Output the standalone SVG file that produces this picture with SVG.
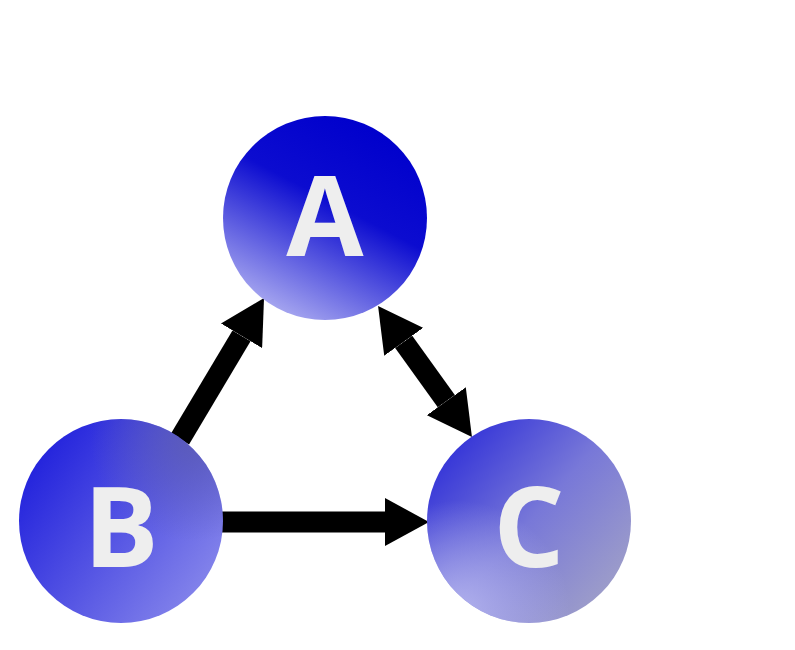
<svg xmlns="http://www.w3.org/2000/svg" width="795" height="650" viewBox="0 0 795 650">
<style>
.lbl{font-family:"Open Sans","Noto Sans","DejaVu Sans",sans-serif;font-weight:bold;font-size:112px;fill:#eeeeee;text-anchor:middle}
.edge{stroke:#000;stroke-width:21;fill:none}
</style>
<defs>
<marker id="ah" markerUnits="userSpaceOnUse" viewBox="0 0 44 48" refX="0" refY="24" markerWidth="44" markerHeight="48" orient="auto-start-reverse">
<path d="M0,0 L44,24 L0,48 z" fill="#000"/>
</marker>
<linearGradient id="gA" x1="0.75" y1="0.05" x2="0.25" y2="1">
<stop offset="0" stop-color="#0000cc"/>
<stop offset="0.4" stop-color="#0c0cd0"/>
<stop offset="1" stop-color="#b2b2f2"/>
</linearGradient>
<linearGradient id="gB" x1="0" y1="0.25" x2="0.85" y2="0.85">
<stop offset="0" stop-color="#2020dc"/>
<stop offset="1" stop-color="#8080ea"/>
</linearGradient>
<radialGradient id="gB2" cx="0.85" cy="0.1" r="0.5">
<stop offset="0" stop-color="#5c5cb0" stop-opacity="0.8"/>
<stop offset="1" stop-color="#5c5cb0" stop-opacity="0"/>
</radialGradient>
<linearGradient id="gC" x1="0.1" y1="0.1" x2="0.95" y2="0.85">
<stop offset="0" stop-color="#3030d8"/>
<stop offset="0.5" stop-color="#7878d8"/>
<stop offset="1" stop-color="#a0a0c8"/>
</linearGradient>
<radialGradient id="gC2" cx="0.15" cy="0.95" r="0.55">
<stop offset="0" stop-color="#b8b8f0" stop-opacity="0.9"/>
<stop offset="1" stop-color="#b8b8f0" stop-opacity="0"/>
</radialGradient>
</defs>
<g id="connectors">
<line class="edge" x1="180" y1="439" x2="241.5" y2="335.8" marker-end="url(#ah)"/>
<line class="edge" x1="403.7" y1="341.8" x2="446.3" y2="401.2" marker-start="url(#ah)" marker-end="url(#ah)"/>
<line class="edge" x1="215" y1="522" x2="385" y2="522" marker-end="url(#ah)"/>
</g>
<g id="node-A">
<circle cx="325" cy="218" r="102" fill="url(#gA)"/>
<text class="lbl" x="325" y="256">A</text>
</g>
<g id="node-B">
<circle cx="121" cy="521" r="102" fill="url(#gB)"/>
<circle cx="121" cy="521" r="102" fill="url(#gB2)"/>
<text class="lbl" x="121" y="567">B</text>
</g>
<g id="node-C">
<circle cx="529" cy="521" r="102" fill="url(#gC)"/>
<circle cx="529" cy="521" r="102" fill="url(#gC2)"/>
<text class="lbl" x="529" y="567">C</text>
</g>
</svg>
